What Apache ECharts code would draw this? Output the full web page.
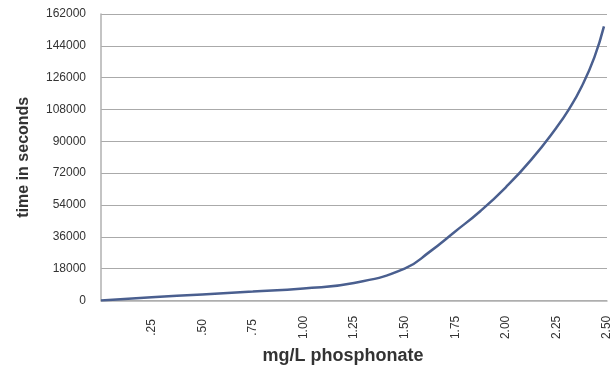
<!DOCTYPE html>
<html>
<head>
<meta charset="utf-8">
<script src="https://cdn.jsdelivr.net/npm/echarts@6/dist/echarts.min.js"></script>
<style>
  html, body { margin: 0; padding: 0; background: #fff; }
  #chart { width: 616px; height: 370px; }
</style>
</head>
<body>
<div id="chart"></div>
<script>
// mg/L phosphonate vs. time in seconds
var doseMgL = [0, 0.25, 0.50, 0.75, 1.00, 1.25, 1.50, 1.625, 1.75, 1.875, 2.00, 2.125, 2.25, 2.3125, 2.375, 2.4375, 2.485];
var timeSec = [0, 1800, 3400, 5000, 6800, 9900, 18000, 27600, 39000, 50600, 64000, 79500, 97700, 108200, 121000, 137500, 155000];

var yTicks = [0, 18000, 36000, 54000, 72000, 90000, 108000, 126000, 144000, 162000];

var chart = echarts.init(document.getElementById('chart'));

function xLabel(v) {
  if (v === 0) { return ''; }
  var s = v.toFixed(2);
  return v < 1 ? s.slice(1) : s;
}

chart.setOption({
  animation: false,
  grid: {left: 101, right: 9, top: 14, bottom: 65.5},
  xAxis: {
    type: 'value', min: 0, max: 2.5, interval: 0.25,
    name: 'mg/L phosphonate', nameLocation: 'middle', nameGap: 44,
    nameTextStyle: {fontFamily: 'Liberation Sans', fontWeight: 'bold', fontSize: 18, color: '#333', padding: [0, 22, 0, 0]},
    axisLine: {show: true, lineStyle: {color: '#b0b0b0', width: 1.5}},
    axisTick: {show: false},
    splitLine: {show: false},
    axisLabel: {rotate: 90, align: 'center', margin: 27, formatter: xLabel,
      fontFamily: 'Liberation Sans', fontSize: 12, color: '#333'}
  },
  yAxis: {
    type: 'value', min: 0, max: yTicks[yTicks.length - 1], interval: 18000,
    name: 'time in seconds', nameLocation: 'middle', nameGap: 69,
    nameTextStyle: {fontFamily: 'Liberation Sans', fontWeight: 'bold', fontSize: 16, color: '#333'},
    axisLine: {show: true, lineStyle: {color: '#b0b0b0', width: 1.5}},
    axisTick: {show: false},
    splitLine: {lineStyle: {color: '#aaaaaa', width: 1}},
    axisLabel: {margin: 15, formatter: function (v) { return String(v); },
      fontFamily: 'Liberation Sans', fontSize: 12, color: '#333'}
  },
  series: [{
    type: 'line',
    data: doseMgL.map(function (x, i) { return [x, timeSec[i]]; }),
    smooth: 0.5,
    showSymbol: false,
    lineStyle: {color: '#4a5f8f', width: 2.5}
  }]
});
</script>
</body>
</html>
